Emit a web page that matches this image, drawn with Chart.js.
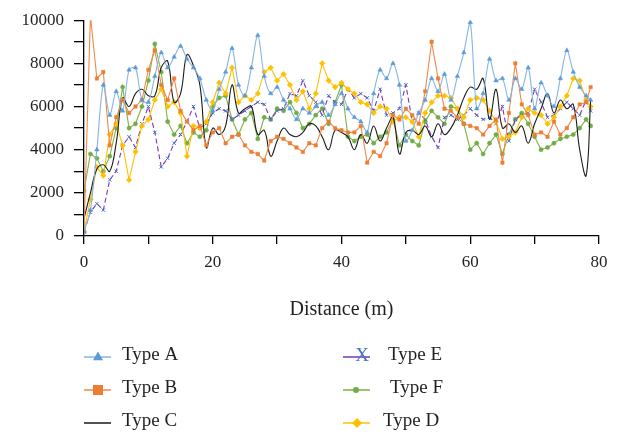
<!DOCTYPE html>
<html>
<head>
<meta charset="utf-8">
<script src="https://cdn.jsdelivr.net/npm/chart.js@4"></script>
<style>
  html,body{margin:0;padding:0;background:#fff;}
  #wrap{width:620px;height:434px;}
</style>
</head>
<body>
<div id="wrap"><canvas id="chart" width="620" height="434"></canvas></div>
<script>
/* Valores: distancia (m) y las seis series */
const distance = [0,1,2,3,4,5,6,7,8,9,10,11,12,13,14,15,16,17,18,19,20,21,22,23,24,25,26,27,28,29,30,31,32,33,34,35,36,37,38,39,40,41,42,43,44,45,46,47,48,49,50,51,52,53,54,55,56,57,58,59,60,61,62,63,64,65,66,67,68,69,70,71,72,73,74,75,76,77,78,78.7];

const typeA = [200,1200,4000,7000,5600,6700,5800,7700,7800,6300,6200,7400,8500,7800,8300,8800,8200,7800,7300,6300,5800,6800,7600,8700,7000,6500,7800,9300,7400,6600,6900,6300,5900,5400,5900,5700,6000,6200,5600,6100,6600,5900,5500,5300,4800,6600,7700,7300,8000,7000,4400,4900,5700,6300,7300,6700,7500,6300,7400,8500,9900,5900,6600,8200,7200,7300,6300,7300,6800,7800,5900,7100,6500,6000,7300,8600,7600,6900,6500,6300];
const typeB = [200,10200,7300,7600,4200,5500,6300,5700,6000,6300,7700,8600,7000,6300,7300,5800,5300,4900,5100,4200,4800,5000,4300,4600,4700,4200,3900,3800,3500,4400,4600,4500,4300,4100,3900,4300,4200,5000,5300,5000,4900,4800,4800,5100,3400,3900,3700,4300,5600,5400,5900,5600,5200,6700,9000,7300,5900,5800,5500,5200,5100,5000,4700,5100,5400,3400,5700,8000,6100,5600,4700,4800,4600,5300,4700,5000,5500,6100,6200,6900];
const typeC = [800,2000,3100,3300,3000,4300,6400,6000,6600,6800,6500,6500,7800,8100,6200,6600,8400,7900,7000,4100,5000,4700,5100,7000,5700,5900,6000,4700,4900,3700,4400,5000,4700,4600,4800,5200,5100,4600,4000,4900,4800,4600,4000,4700,4300,5100,4400,5000,5500,3800,4800,4900,4700,5100,4600,5200,4700,5000,5600,6400,6900,6800,7300,5400,6800,5000,5200,4800,5100,4300,5200,5900,6600,5700,6300,5900,6100,4000,2800,6300];
const typeD = [200,1700,3200,2800,4700,5200,4200,2600,3900,5100,5400,6300,6800,6000,6200,5700,3700,5100,5000,5300,6200,7100,6600,7800,6200,6500,6300,6600,7600,7800,7200,7500,7000,6300,6700,5900,6600,8000,7200,6900,7100,6800,6600,6200,6100,5700,6000,5900,5300,5500,5500,5300,4600,5700,6200,6500,6500,6400,5900,5500,6300,6400,6300,5800,5300,4500,4600,4800,5500,5900,5700,5600,5200,5500,6000,6500,7300,7200,6300,6000];
const typeE = [200,1100,1500,1200,2600,3000,4200,4600,4100,5200,6000,4800,3200,3600,4300,4700,5300,6000,5000,5200,5700,5900,5800,5400,5600,5800,6000,6200,6100,5400,5800,5900,6600,6500,7200,6500,6200,5600,6500,6200,6100,6800,6400,6600,6400,5800,6800,5600,5700,5900,7000,5300,5700,5400,4600,4100,5500,5600,5400,5600,5900,5600,5400,5500,5200,6000,4400,5400,5600,5700,6800,6200,5500,5600,5900,6200,5900,5600,6300,5800];
const typeF = [2100,3800,3600,3000,3700,5000,6900,5000,5200,6000,7200,8900,7600,5300,4700,5100,4300,4800,4600,4900,6000,6400,6500,5400,4700,5400,5700,4500,5500,5400,5900,5800,6200,5700,5000,5200,5600,5900,5200,6200,7000,4600,4400,4600,4700,4300,4600,4800,5400,4200,4700,4400,4200,5300,5800,5500,5200,6000,5900,5200,4000,4300,3800,4300,4700,3800,4700,5400,5700,5200,4600,4000,4100,4300,4500,4600,4700,5000,5400,5100];

const seriesNames = ['Type A','Type B','Type C','Type D','Type E','Type F'];
const xTicks = [0,20,40,60,80];
const yTicks = [0,2000,4000,6000,8000,10000];

const FONT = "'Liberation Serif', 'DejaVu Serif', serif";
const INK = '#231f20';
const pts = (vals)=> distance.map((d,i)=> ({x:d, y:vals[i]}));

// estilo de cada serie (linea, marcador) y su lugar en la leyenda [x linea, y, x texto, x marcador]
const styles = [
  {line:'#86b4e2', pt:'#5b9bd5', shape:'triangle', r:2.6, tension:0.3, slot:[84,355,122,98]},
  {line:'#f0884a', pt:'#ed7d31', shape:'rect',     r:2.4, tension:0,   slot:[84,388,122,98]},
  {line:'#1a1a1a', pt:'#1a1a1a', shape:false,      r:0,   tension:0.4, slot:[84,421,122,98]},
  {line:'#ffc000', pt:'#ffc000', shape:'rectRot',  r:2.8, tension:0,   slot:[343,421,383,357]},
  {line:'#7a35b8', pt:'#4472c4', shape:'crossRot', r:2.4, tension:0,   slot:[343,355,388,362], dash:[5,3]},
  {line:'#7cb342', pt:'#70ad47', shape:'circle',   r:2.1, tension:0,   slot:[343,388,390,356]},
];
const allVals = [typeA,typeB,typeC,typeD,typeE,typeF];

const datasets = allVals.map((vals,i)=>{
  const s = styles[i];
  return {
    label: seriesNames[i],
    data: pts(vals),
    borderColor: s.line,
    backgroundColor: s.pt,
    borderWidth: 1.1,
    borderDash: s.dash || [],
    tension: s.tension,
    pointStyle: s.shape,
    pointRadius: s.r,
    pointBackgroundColor: s.pt,
    pointBorderColor: s.pt,
    pointBorderWidth: s.shape==='crossRot' ? 1 : 0.5,
    fill: false
  };
});

// dibuja un marcador pequeño en la leyenda
function marker(ctx, shape, x, y, r, color){
  ctx.save();
  ctx.fillStyle = color; ctx.strokeStyle = color; ctx.setLineDash([]);
  ctx.beginPath();
  if(shape==='triangle'){
    ctx.moveTo(x, y-r*1.3); ctx.lineTo(x+r*1.2, y+r*0.8); ctx.lineTo(x-r*1.2, y+r*0.8); ctx.closePath(); ctx.fill();
  }else if(shape==='rect'){
    ctx.fillRect(x-r, y-r, r*2, r*2);
  }else if(shape==='rectRot'){
    ctx.moveTo(x, y-r); ctx.lineTo(x+r, y); ctx.lineTo(x, y+r); ctx.lineTo(x-r, y); ctx.closePath(); ctx.fill();
  }else if(shape==='circle'){
    ctx.arc(x, y, r, 0, Math.PI*2); ctx.fill();
  }else if(shape==='X'){
    ctx.font = `19px ${FONT}`; ctx.textAlign='center'; ctx.textBaseline='middle';
    ctx.fillText('X', x, y-1);
  }
  ctx.restore();
}

const gridLegend = {
  id: 'gridLegend',
  afterDraw(chart){
    const ctx = chart.ctx;
    styles.forEach((s,i)=>{
      const [x, y, tx, mx] = s.slot;
      const ly = y + 2;
      ctx.save();
      ctx.strokeStyle = s.line; ctx.lineWidth = 1.5;
      ctx.beginPath(); ctx.moveTo(x, ly); ctx.lineTo(x+27, ly); ctx.stroke();
      ctx.restore();
      const legShape = s.shape==='crossRot' ? 'X' : s.shape;
      const legR = {triangle:4.2, rect:5, rectRot:5, circle:3}[legShape] || 0;
      if(legShape) marker(ctx, legShape, mx, ly, legR, s.pt);
      ctx.save();
      ctx.fillStyle = INK; ctx.font = `19px ${FONT}`;
      ctx.textAlign = 'left'; ctx.textBaseline = 'middle';
      ctx.fillText(seriesNames[i], tx, y);
      ctx.restore();
    });
  }
};

new Chart(document.getElementById('chart'), {
  type: 'line',
  data: { datasets },
  plugins: [gridLegend],
  options: {
    responsive: false,
    animation: false,
    layout: { padding: { left: 0, top: 20, right: 21, bottom: 112 } },
    plugins: { legend: { display:false }, tooltip: { enabled:false } },
    scales: {
      x: {
        type: 'linear', min: 0, max: 80,
        afterFit: (scale)=>{ scale.height = 86; },
        border: { display:true, color:'#000', width:1.3 },
        grid: { drawOnChartArea:false, drawTicks:true, tickLength:8, color:'#000', lineWidth:1.3 },
        ticks: { stepSize:10, padding:8, color:INK, font:{ family:FONT, size:17 },
                 maxRotation:0, autoSkip:false,
                 callback: (v)=> xTicks.includes(v) ? String(v) : '' },
        title: { display:true, text:'Distance (m)', color:INK, font:{ family:FONT, size:20 }, padding:{top:0,bottom:0} }
      },
      y: {
        min: 0, max: 10000,
        afterFit: (scale)=>{ scale.width = 84; },
        border: { display:true, color:'#000', width:1.3 },
        grid: { drawOnChartArea:false, drawTicks:true, tickLength:10, color:'#000', lineWidth:1.3 },
        ticks: { stepSize:1000, padding:10, color:INK, font:{ family:FONT, size:17 }, autoSkip:false,
                 callback: (v)=> yTicks.includes(v) ? String(v) : '' }
      }
    }
  }
});
</script>
</body>
</html>
